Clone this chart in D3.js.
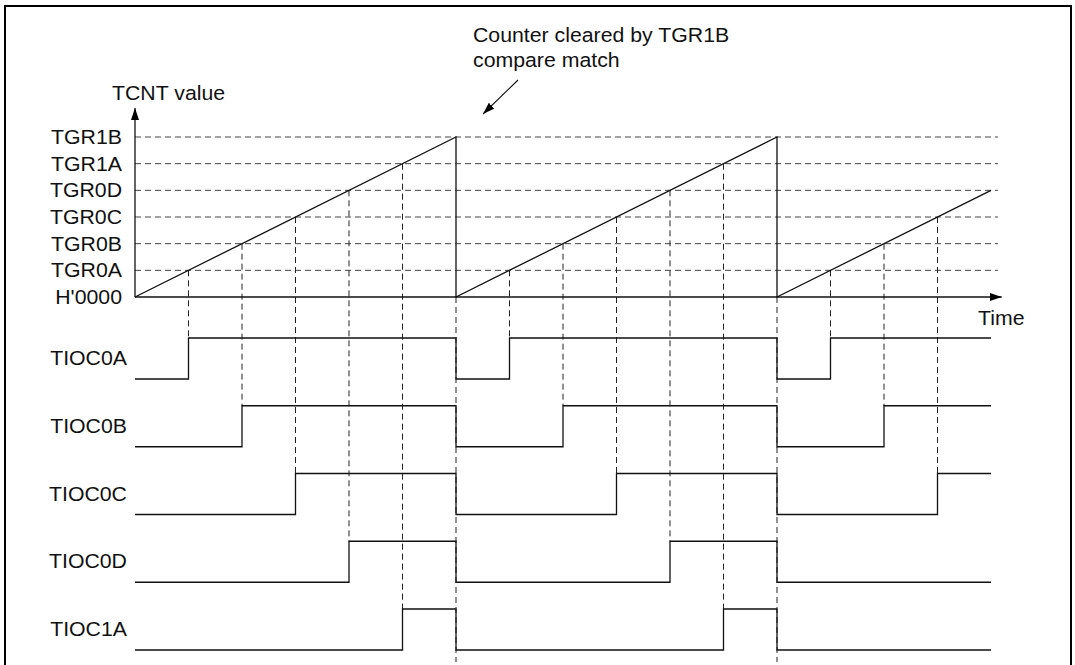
<!DOCTYPE html>
<html>
<head>
<meta charset="utf-8">
<script src="https://cdn.jsdelivr.net/npm/d3@7"></script>
<style>
	body { margin: 0; background: #fff; }
	text { font-family: 'Liberation Sans', Arial, sans-serif; font-size: 19.7px; fill: #111; }
</style>
</head>
<body>
<script>
// compare register levels on the TCNT axis (bottom to top)
var levelLabels = ["H'0000", 'TGR0A', 'TGR0B', 'TGR0C', 'TGR0D', 'TGR1A', 'TGR1B'];

// TCNT sawtooth: [time, level]
var rampPoints = [[0, 0], [6, 6], [6, 0], [12, 6], [12, 0], [16, 4]];

// times where the counter is cleared
var clearTimes = [6, 12];

// compare match events: time and the level that was matched
var matchTimes = [1, 2, 3, 4, 5, 7, 8, 9, 10, 11, 13, 14, 15],
	matchLevels = [1, 2, 3, 4, 5, 1, 2, 3, 4, 5, 1, 2, 3];

// output waveforms: [time, state]
var signalNames = ['TIOC0A', 'TIOC0B', 'TIOC0C', 'TIOC0D', 'TIOC1A'];
var tioc0a = [[0, 0], [1, 1], [6, 0], [7, 1], [12, 0], [13, 1], [16, 1]],
	tioc0b = [[0, 0], [2, 1], [6, 0], [8, 1], [12, 0], [14, 1], [16, 1]],
	tioc0c = [[0, 0], [3, 1], [6, 0], [9, 1], [12, 0], [15, 1], [16, 1]],
	tioc0d = [[0, 0], [4, 1], [6, 0], [10, 1], [12, 0], [16, 0]],
	tioc1a = [[0, 0], [5, 1], [6, 0], [11, 1], [12, 0], [16, 0]];
var signals = [tioc0a, tioc0b, tioc0c, tioc0d, tioc1a];

window.onload = function() {

	var width = 1075,
		height = 665;

	var svg = d3.select('body').append('svg')
		.attr('width', width)
		.attr('height', height);

	// scales
	var x = d3.scaleLinear()
		.domain([0, 16])
		.range([135, 991]);

	var y = d3.scaleLinear()
		.domain([0, 6])
		.range([297, 137]);

	var row = d3.scaleLinear()
		.domain([0, 4])
		.range([338, 609]);

	var state = d3.scaleLinear()
		.domain([1, 0])
		.range([0, 41]);

	var dash = '6,4',
		ink = '#111';

	// the original lettering is a little wider than Arial
	function place(px, py) {
		return 'translate(' + px + ',' + py + ') scale(1.08,1)';
	}

	// frame
	svg.append('rect')
		.attr('x', 5)
		.attr('y', 6)
		.attr('width', 1066)
		.attr('height', 680)
		.attr('fill', 'none')
		.attr('stroke', '#000')
		.attr('stroke-width', 2);

	svg.append('defs').append('marker')
		.attr('id', 'head')
		.attr('viewBox', '0 0 12 8')
		.attr('refX', 12)
		.attr('refY', 4)
		.attr('markerWidth', 12)
		.attr('markerHeight', 8)
		.attr('markerUnits', 'userSpaceOnUse')
		.attr('orient', 'auto')
		.append('path')
		.attr('d', 'M0,0L12,4L0,8Z')
		.attr('fill', '#000');

	// horizontal dashed level lines
	svg.append('g').selectAll('line')
		.data(levelLabels.slice(1))
		.enter().append('line')
		.attr('x1', x(0))
		.attr('x2', x(16.13))
		.attr('y1', function(d, i) { return y(i + 1); })
		.attr('y2', function(d, i) { return y(i + 1); })
		.attr('stroke', '#444')
		.attr('stroke-width', 1)
		.attr('stroke-dasharray', dash);

	// level labels
	svg.append('g').selectAll('text')
		.data(levelLabels)
		.enter().append('text')
		.attr('transform', function(d, i) { return place(122, y(i) + 7); })
		.attr('text-anchor', 'end')
		.text(function(d) { return d; });

	// vertical dashed lines at compare matches
	svg.append('g').selectAll('line')
		.data(matchTimes)
		.enter().append('line')
		.attr('x1', function(d) { return x(d); })
		.attr('x2', function(d) { return x(d); })
		.attr('y1', function(d, i) { return y(matchLevels[i]); })
		.attr('y2', function(d, i) { return row(matchLevels[i] - 1) + state(1); })
		.attr('stroke', '#222')
		.attr('stroke-width', 1)
		.attr('stroke-dasharray', dash);

	// vertical dashed lines at counter clear
	svg.append('g').selectAll('line')
		.data(clearTimes)
		.enter().append('line')
		.attr('x1', function(d) { return x(d); })
		.attr('x2', function(d) { return x(d); })
		.attr('y1', y(0))
		.attr('y2', 662)
		.attr('stroke', '#222')
		.attr('stroke-width', 1)
		.attr('stroke-dasharray', dash);

	// axes
	svg.append('line')
		.attr('x1', x(0)).attr('y1', y(0))
		.attr('x2', x(0)).attr('y2', 108)
		.attr('stroke', ink)
		.attr('stroke-width', 1.3)
		.attr('marker-end', 'url(#head)');

	svg.append('line')
		.attr('x1', x(0)).attr('y1', y(0))
		.attr('x2', x(16.2)).attr('y2', y(0))
		.attr('stroke', ink)
		.attr('stroke-width', 1.3)
		.attr('marker-end', 'url(#head)');

	svg.append('text')
		.attr('transform', place(112, 100))
		.text('TCNT value');

	svg.append('text')
		.attr('transform', place(978, 325))
		.text('Time');

	// TCNT sawtooth
	var line = d3.line()
		.x(function(d) { return x(d[0]); })
		.y(function(d) { return y(d[1]); });

	svg.append('path')
		.attr('d', line(rampPoints))
		.attr('fill', 'none')
		.attr('stroke', ink)
		.attr('stroke-width', 1.3);

	// output waveforms
	var g = svg.append('g').selectAll('g')
		.data(signals)
		.enter().append('g')
		.attr('transform', function(d, i) { return 'translate(0,' + row(i) + ')'; });

	var wave = d3.line()
		.curve(d3.curveStepAfter)
		.x(function(d) { return x(d[0]); })
		.y(function(d) { return state(d[1]); });

	g.append('path')
		.attr('d', function(d) { return wave(d); })
		.attr('fill', 'none')
		.attr('stroke', ink)
		.attr('stroke-width', 1.3);

	g.append('text')
		.attr('transform', place(127, 27))
		.attr('text-anchor', 'end')
		.text(function(d, i) { return signalNames[i]; });

	// annotation
	var note = svg.append('text')
		.attr('transform', place(473, 42));
	note.append('tspan').attr('x', 0).text('Counter cleared by TGR1B');
	note.append('tspan').attr('x', 0).attr('dy', 25).text('compare match');

	svg.append('line')
		.attr('x1', 518).attr('y1', 80)
		.attr('x2', 483).attr('y2', 114)
		.attr('stroke', ink)
		.attr('stroke-width', 1.1)
		.attr('marker-end', 'url(#head)');
};
</script>
</body>
</html>
